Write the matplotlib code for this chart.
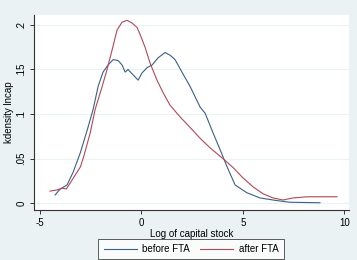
import matplotlib
matplotlib.use("Agg")
import matplotlib.pyplot as plt

plt.rcParams['font.family'] = ['Liberation Sans', 'DejaVu Sans']

# before FTA kernel density
before_x = [-4.25, -4.0, -3.66, -3.36, -3.01, -2.67, -2.38, -2.13, -1.89, -1.64, -1.39, -1.15,
            -0.95, -0.80, -0.66, -0.41, -0.16, 0.03, 0.28, 0.53, 0.82, 1.17, 1.41, 1.66, 2.0,
            2.4, 2.89, 3.14, 3.53, 3.88, 4.22, 4.62, 5.2, 5.85, 6.49, 6.83, 7.32, 8.8]
before_y = [0.0094, 0.016, 0.0206, 0.035, 0.0565, 0.082, 0.105, 0.131, 0.147, 0.155, 0.161, 0.160,
            0.155, 0.147, 0.150, 0.144, 0.138, 0.146, 0.152, 0.155, 0.163, 0.169, 0.166, 0.161, 0.147,
            0.131, 0.108, 0.101, 0.079, 0.060, 0.041, 0.0205, 0.0118, 0.006, 0.0037, 0.0026, 0.0012, 0.0006]

# after FTA kernel density
after_x = [-4.5, -4.15, -3.9, -3.7, -3.5, -3.0, -2.82, -2.52, -2.28, -1.93, -1.69, -1.44, -1.2,
           -0.95, -0.70, -0.46, -0.21, -0.06, 0.18, 0.43, 0.77, 1.07, 1.41, 1.9, 2.4, 2.89, 3.39,
           4.03, 4.52, 5.0, 5.5, 6.0, 6.49, 6.98, 7.47, 8.16, 8.8, 9.64]
after_y = [0.0137, 0.015, 0.017, 0.016, 0.023, 0.041, 0.054, 0.079, 0.105, 0.131, 0.150, 0.172, 0.194,
           0.203, 0.205, 0.202, 0.197, 0.189, 0.175, 0.157, 0.138, 0.124, 0.110, 0.097, 0.085, 0.073, 0.062,
           0.050, 0.040, 0.0286, 0.0185, 0.0106, 0.006, 0.0037, 0.006, 0.0073, 0.0073, 0.0073]

xticks = [-5, 0, 5, 10]
xticklabels = ['-5', '0', '5', '10']
yticks = [0, 0.05, 0.1, 0.15, 0.2]
yticklabels = ['0', '.05', '.1', '.15', '.2']

W, H = 357, 260
fig = plt.figure(figsize=(W / 100, H / 100), dpi=100)
fig.patch.set_facecolor('#eaf2f3')

ax = fig.add_axes([34 / W, 1 - 210 / H, (349 - 34) / W, (210 - 15) / H])
ax.set_facecolor('white')

ax.plot(before_x, before_y, color='#3b5f87', lw=0.8, label='before FTA')
ax.plot(after_x, after_y, color='#b04a55', lw=0.8, label='after FTA')

ax.set_xlim(-5.29, 10.23)
ax.set_ylim(-0.0075, 0.211)

ax.set_xticks(xticks)
ax.set_xticklabels(xticklabels, fontsize=7)
ax.set_yticks(yticks)
ax.set_yticklabels(yticklabels, fontsize=7, rotation=90, va='center')

ax.tick_params(axis='both', direction='out', length=3, width=0.7, color='#333333', pad=2.5)
for s in ['top', 'right']:
    ax.spines[s].set_visible(False)
for s in ['left', 'bottom']:
    ax.spines[s].set_color('#333333')
    ax.spines[s].set_linewidth(0.8)

ax.grid(axis='y', color='#eaf2f3', lw=0.8)
ax.set_axisbelow(True)

ax.set_xlabel('Log of capital stock', fontsize=7, labelpad=1)
ax.set_ylabel('kdensity lncap', fontsize=7, labelpad=2)

leg = fig.legend(loc='center', bbox_to_anchor=(191 / W, 1 - 249 / H), ncol=2,
                 fontsize=7, frameon=True, fancybox=False, handlelength=3.4,
                 columnspacing=1.0, borderpad=0.55, handletextpad=0.6, borderaxespad=0)
leg.get_frame().set_edgecolor('#333333')
leg.get_frame().set_linewidth(0.7)
leg.get_frame().set_facecolor('white')

fig.savefig('out.png', dpi=100, facecolor=fig.get_facecolor())
